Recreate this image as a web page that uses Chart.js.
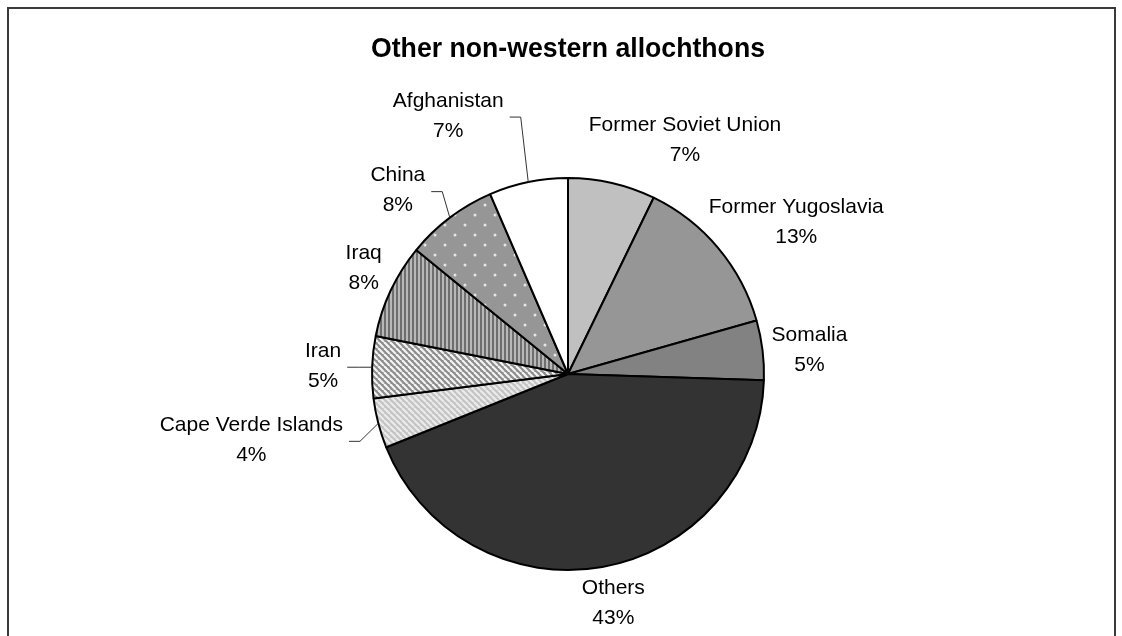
<!DOCTYPE html>
<html>
<head>
<meta charset="utf-8">
<script src="https://cdn.jsdelivr.net/npm/chart.js@4.4.1/dist/chart.umd.min.js"></script>
<style>
  html, body { margin: 0; padding: 0; background: #fff; }
  #wrap { position: relative; width: 1122px; height: 636px; overflow: hidden; }
  #frame { position: absolute; left: 7px; top: 7px; width: 1109px; height: 700px; border: 2px solid #3a3a3a; box-sizing: border-box; }
  canvas { position: absolute; left: 0; top: 0; }
</style>
</head>
<body>
<div id="wrap">
  <div id="frame"></div>
  <canvas id="pie" width="1122" height="636"></canvas>
</div>
<script>
// data, clockwise from 12 o'clock
const countries = ["Former Soviet Union", "Former Yugoslavia", "Somalia", "Others",
  "Cape Verde Islands", "Iran", "Iraq", "China", "Afghanistan"];
const shares = [7.2, 13.4, 4.9, 43.4, 4.1, 5.1, 7.8, 7.6, 6.5];

// where each label sits, relative to the outer middle of its slice
const labelShift = [[73, -43], [78, -26], [47, 0], [11, 36], [-127, 17],
  [-49, -1], [-27, -22], [-52, -27], [-80, -66]];
const hasLeader = [false, false, false, false, true, true, false, true, true];

const FONT = "'Liberation Sans', Arial, sans-serif";

function tile(w, h, paint) {
  const c = document.createElement("canvas");
  c.width = w; c.height = h;
  const g = c.getContext("2d");
  paint(g, w, h);
  return g.createPattern(c, "repeat");
}

function diagonal(bg, fg, size, lw) {
  return tile(size, size, (g, w, h) => {
    g.fillStyle = bg; g.fillRect(0, 0, w, h);
    g.strokeStyle = fg; g.lineWidth = lw;
    for (let k = -1; k <= 1; k++) {
      g.beginPath();
      g.moveTo(k * w, 0);
      g.lineTo(k * w + w, h);
      g.stroke();
    }
  });
}

const ctx = document.getElementById("pie").getContext("2d");

const fills = [
  "#c0c0c0",
  "#969696",
  "#828282",
  "#333333",
  diagonal("#c4c4c4", "#ececec", 6, 2),
  diagonal("#8c8c8c", "#f4f4f4", 6, 2.2),
  tile(4, 4, (g) => {
    g.fillStyle = "#b8b8b8"; g.fillRect(0, 0, 4, 4);
    g.fillStyle = "#6e6e6e"; g.fillRect(0, 0, 2, 4);
  }),
  tile(20, 20, (g) => {
    g.fillStyle = "#969696"; g.fillRect(0, 0, 20, 20);
    g.fillStyle = "#e6e6e6";
    g.beginPath(); g.arc(5, 5, 1.5, 0, Math.PI * 2); g.fill();
    g.beginPath(); g.arc(15, 15, 1.5, 0, Math.PI * 2); g.fill();
  }),
  "#ffffff"
];

const outsideLabels = {
  id: "outsideLabels",
  afterDatasetsDraw(chart) {
    const c = chart.ctx;
    const arcs = chart.getDatasetMeta(0).data;
    const total = shares.reduce((a, b) => a + b, 0);
    c.save();
    c.font = "21px " + FONT;
    c.fillStyle = "#000";
    c.textAlign = "center";
    c.textBaseline = "middle";
    arcs.forEach((arc, i) => {
      const mid = (arc.startAngle + arc.endAngle) / 2;
      const px = arc.x + Math.cos(mid) * arc.outerRadius;
      const py = arc.y + Math.sin(mid) * arc.outerRadius;
      const lx = px + labelShift[i][0];
      const ly = py + labelShift[i][1];
      const line1 = countries[i];
      const line2 = Math.round(shares[i] / total * 100) + "%";
      c.fillText(line1, lx, ly - 15);
      c.fillText(line2, lx, ly + 15);
      if (hasLeader[i]) {
        const half = Math.max(c.measureText(line1).width, c.measureText(line2).width) / 2;
        const sx = lx + half + 6;
        c.save();
        c.strokeStyle = "#333";
        c.lineWidth = 1;
        c.beginPath();
        c.moveTo(sx, ly + 1);
        c.lineTo(sx + 11, ly + 1);
        c.lineTo(px, py);
        c.stroke();
        c.restore();
      }
    });
    c.restore();
  }
};

new Chart(ctx, {
  type: "pie",
  data: {
    labels: countries,
    datasets: [{
      data: shares,
      backgroundColor: fills,
      borderColor: "#000",
      borderWidth: 2
    }]
  },
  options: {
    responsive: false,
    animation: false,
    events: [],
    layout: { padding: { left: 371, right: 357, top: 0, bottom: 65 } },
    plugins: {
      legend: { display: false },
      tooltip: { enabled: false },
      title: {
        display: true,
        text: "Other non-western allochthons",
        color: "#000",
        font: { family: FONT, size: 27, weight: "bold" },
        padding: { top: 33, bottom: 111.6 }
      }
    }
  },
  plugins: [outsideLabels]
});
</script>
</body>
</html>
